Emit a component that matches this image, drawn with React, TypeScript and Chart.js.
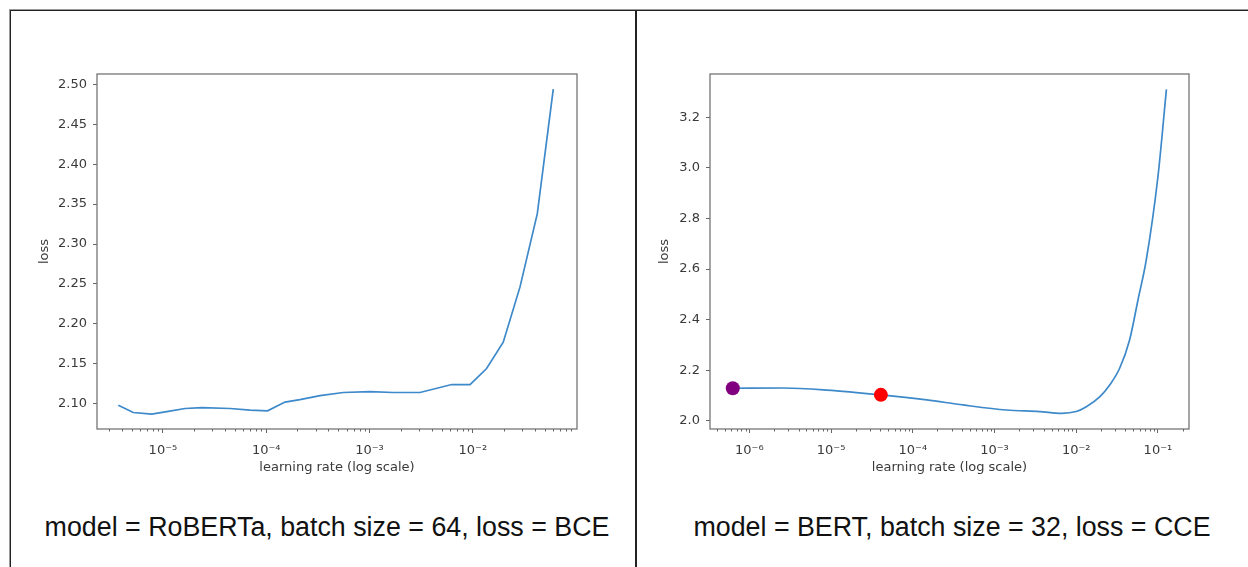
import React, { useEffect, useRef } from 'react';
import { Chart, registerables } from 'chart.js';

Chart.register(...registerables);

// ---- data ----
const leftLr = [3.7e-6, 5.16e-6, 7.79e-6, 1.09e-5, 1.64e-5, 2.38e-5, 4.47e-5, 6.97e-5, 1.03e-4, 1.52e-4, 2.12e-4, 3.32e-4, 5.57e-4, 1.01e-3, 1.7e-3, 3.08e-3, 6.25e-3, 9.4e-3, 1.36e-2, 1.97e-2, 2.86e-2, 4.21e-2, 6.01e-2];
const leftLoss = [2.098, 2.089, 2.087, 2.09, 2.094, 2.095, 2.094, 2.092, 2.091, 2.102, 2.105, 2.11, 2.114, 2.115, 2.114, 2.114, 2.124, 2.124, 2.144, 2.177, 2.246, 2.338, 2.494];

const rightLr = [6.27e-7, 2.6e-6, 8.8e-6, 4.07e-5, 1.48e-4, 4.13e-4, 1.4e-3, 3.58e-3, 6.6e-3, 1.0e-2, 1.33e-2, 1.95e-2, 2.57e-2, 3.4e-2, 4.5e-2, 5.7e-2, 7.2e-2, 1.0e-1, 1.27e-1];
const rightLoss = [2.129, 2.13, 2.122, 2.103, 2.083, 2.063, 2.043, 2.037, 2.03, 2.037, 2.056, 2.096, 2.142, 2.208, 2.32, 2.478, 2.636, 2.965, 3.31];

const markerLr = [6.27e-7, 4.07e-5];
const markerLoss = [2.129, 2.103];
const markerColors = ['#800080', '#ff0000'];

const leftXTicks = [1e-5, 1e-4, 1e-3, 1e-2];
const rightXTicks = [1e-6, 1e-5, 1e-4, 1e-3, 1e-2, 1e-1];
const leftYTicks = [2.1, 2.15, 2.2, 2.25, 2.3, 2.35, 2.4, 2.45, 2.5];
const rightYTicks = [2.0, 2.2, 2.4, 2.6, 2.8, 3.0, 3.2];

const leftCaption = 'model = RoBERTa, batch size = 64, loss = BCE';
const rightCaption = 'model = BERT, batch size = 32, loss = CCE';
const xTitle = 'learning rate (log scale)';
const yTitle = 'loss';

// ---- helpers ----
const SUP: Record<string, string> = { '-': '\u207B', '0': '\u2070', '1': '\u00B9', '2': '\u00B2', '3': '\u00B3', '4': '\u2074', '5': '\u2075', '6': '\u2076', '7': '\u2077', '8': '\u2078', '9': '\u2079' };
const pow10Label = (v: number) => {
  const e = Math.round(Math.log10(v));
  return '10' + String(e).split('').map((c) => SUP[c] || c).join('');
};

const FONT = 'DejaVu Sans';
const TXT = '#3a3a3a';
const TICK = '#666';

const framePlugin = {
  id: 'mplFrame',
  afterDraw(chart: any) {
    const { ctx, chartArea: a, scales } = chart;
    const xs = scales.x;
    ctx.save();
    ctx.strokeStyle = '#757575';
    ctx.lineWidth = 1.3;
    ctx.strokeRect(a.left, a.top, a.right - a.left, a.bottom - a.top);
    ctx.strokeStyle = TICK;
    ctx.lineWidth = 1;
    const lo = Math.floor(Math.log10(xs.min));
    const hi = Math.ceil(Math.log10(xs.max));
    for (let e = lo; e <= hi; e++) {
      for (let k = 2; k <= 9; k++) {
        const v = k * Math.pow(10, e);
        if (v < xs.min || v > xs.max) continue;
        const px = Math.round(xs.getPixelForValue(v)) + 0.5;
        ctx.beginPath();
        ctx.moveTo(px, a.bottom);
        ctx.lineTo(px, a.bottom + 2.5);
        ctx.stroke();
      }
    }
    ctx.restore();
  },
};

type Spec = {
  lr: number[];
  loss: number[];
  xMin: number;
  xMax: number;
  yMin: number;
  yMax: number;
  xTicks: number[];
  yTicks: number[];
  yDec: number;
  yWidth: number;
  padRight: number;
  tension: number;
  markers: boolean;
};

function LrChart({ spec, width, height }: { spec: Spec; width: number; height: number }) {
  const ref = useRef<HTMLCanvasElement | null>(null);
  useEffect(() => {
    if (!ref.current) return;
    const datasets: any[] = [
      {
        data: spec.lr.map((x, i) => ({ x, y: spec.loss[i] })),
        borderColor: '#3d89c9',
        borderWidth: 1.7,
        pointRadius: 0,
        tension: spec.tension,
        cubicInterpolationMode: spec.tension > 0 ? 'monotone' : 'default',
        fill: false,
        order: 2,
      },
    ];
    if (spec.markers) {
      datasets.push({
        data: markerLr.map((x, i) => ({ x, y: markerLoss[i] })),
        showLine: false,
        pointRadius: 7,
        pointBorderWidth: 0,
        pointBackgroundColor: markerColors,
        pointBorderColor: markerColors,
        order: 1,
      });
    }
    const tickFont = { family: FONT, size: 13 };
    const chart = new Chart(ref.current, {
      type: 'line',
      data: { datasets },
      plugins: [framePlugin],
      options: {
        animation: false,
        responsive: false,
        devicePixelRatio: 1,
        layout: { padding: { top: 14, right: spec.padRight, left: 0, bottom: 0 } },
        plugins: { legend: { display: false }, tooltip: { enabled: false } },
        scales: {
          x: {
            type: 'logarithmic',
            min: spec.xMin,
            max: spec.xMax,
            bounds: 'data',
            afterBuildTicks: (s: any) => {
              s.ticks = spec.xTicks.map((v) => ({ value: v }));
            },
            afterFit: (s: any) => {
              s.height = 51;
            },
            border: { display: false },
            grid: { display: true, drawOnChartArea: false, drawTicks: true, tickLength: 4, tickColor: TICK, tickWidth: 1 },
            ticks: {
              autoSkip: false,
              maxRotation: 0,
              padding: 10,
              color: TXT,
              font: tickFont,
              callback: (v: any) => pow10Label(Number(v)),
            },
            title: { display: true, text: xTitle, color: TXT, font: tickFont, padding: { top: 0, bottom: 5 } },
          },
          y: {
            type: 'linear',
            min: spec.yMin,
            max: spec.yMax,
            bounds: 'data',
            afterBuildTicks: (s: any) => {
              s.ticks = spec.yTicks.map((v) => ({ value: v }));
            },
            afterFit: (s: any) => {
              s.width = spec.yWidth;
            },
            border: { display: false },
            grid: { display: true, drawOnChartArea: false, drawTicks: true, tickLength: 4, tickColor: TICK, tickWidth: 1 },
            ticks: {
              autoSkip: false,
              padding: 6,
              color: TXT,
              font: tickFont,
              callback: (v: any) => Number(v).toFixed(spec.yDec),
            },
            title: { display: true, text: yTitle, color: TXT, font: tickFont, padding: { top: 17, bottom: 0 } },
          },
        },
      } as any,
    });
    return () => chart.destroy();
  }, [spec]);
  return <canvas ref={ref} width={width} height={height} style={{ width, height, display: 'block' }} />;
}

const leftSpec: Spec = {
  lr: leftLr,
  loss: leftLoss,
  xMin: 2.3e-6,
  xMax: 0.102,
  yMin: 2.0683,
  yMax: 2.513,
  xTicks: leftXTicks,
  yTicks: leftYTicks,
  yDec: 2,
  yWidth: 77,
  padRight: 23,
  tension: 0,
  markers: false,
};

const rightSpec: Spec = {
  lr: rightLr,
  loss: rightLoss,
  xMin: 3.3e-7,
  xMax: 0.24,
  yMin: 1.968,
  yMax: 3.371,
  xTicks: rightXTicks,
  yTicks: rightYTicks,
  yDec: 1,
  yWidth: 70,
  padRight: 31,
  tension: 0.4,
  markers: true,
};

const abs = (s: React.CSSProperties): React.CSSProperties => ({ position: 'absolute', ...s });

export default function App() {
  const capStyle: React.CSSProperties = {
    position: 'absolute',
    top: 512,
    width: 640,
    textAlign: 'center',
    fontFamily: '"Liberation Sans", Arial, Helvetica, sans-serif',
    fontSize: 26.8,
    lineHeight: '30px',
    color: '#111',
    whiteSpace: 'nowrap',
  };
  return (
    <div style={abs({ left: 0, top: 0, width: 1248, height: 567, overflow: 'hidden', background: '#fff' })}>
      {/* table borders */}
      <div style={abs({ left: 9, top: 9, width: 1239, height: 1, background: '#9a9a9a' })} />
      <div style={abs({ left: 10, top: 10, width: 1238, height: 1, background: '#222' })} />
      <div style={abs({ left: 9, top: 9, width: 1, height: 558, background: '#9a9a9a' })} />
      <div style={abs({ left: 10, top: 10, width: 1, height: 557, background: '#222' })} />
      <div style={abs({ left: 635, top: 10, width: 2, height: 557, background: '#222' })} />

      <div style={abs({ left: 20, top: 60 })}>
        <LrChart spec={leftSpec} width={580} height={420} />
      </div>
      <div style={abs({ left: 640, top: 60 })}>
        <LrChart spec={rightSpec} width={580} height={420} />
      </div>

      <div style={{ ...capStyle, left: 327 - 320 }}>{leftCaption}</div>
      <div style={{ ...capStyle, left: 952 - 320 }}>{rightCaption}</div>
    </div>
  );
}
